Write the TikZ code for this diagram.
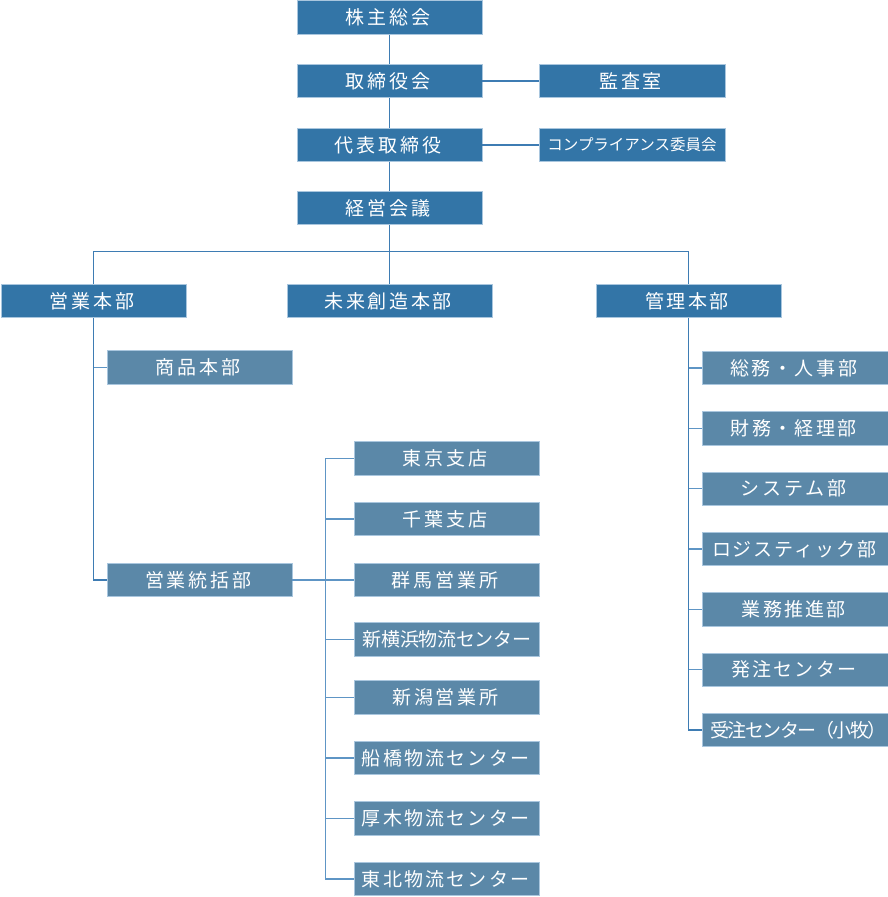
\documentclass[tikz,border=0pt]{standalone}
\usepackage{fontspec}
\setmainfont{Noto Sans CJK JP}
\definecolor{darkbox}{HTML}{3375A7}
\definecolor{lightbox}{HTML}{5B88A8}
\definecolor{boxedge}{HTML}{A9C6DE}
\definecolor{lineA}{HTML}{3E7CB3}
\definecolor{lineB}{HTML}{5E95C5}
\ExplSyntaxOn
\NewDocumentCommand\ls{O{3}m}{
  \tl_map_inline:nn {#2} { ##1 \hspace{#1pt} } \hspace{-#1pt}
}
\ExplSyntaxOff
\tikzset{
  orgbox/.style={rectangle, minimum width=185pt, minimum height=33.5pt, inner sep=0pt,
    fill=darkbox, draw=boxedge, line width=0.6pt, text=white,
    font=\fontsize{19}{19}\selectfont},
  subbox/.style={orgbox, fill=lightbox},
  linkA/.style={draw=lineA, line width=1.4pt},
  linkB/.style={draw=lineB, line width=1.4pt}
}
\begin{document}
\begin{tikzpicture}[x=1pt,y=-1pt]
\useasboundingbox (0,0) rectangle (888,897);
% top chain
\node[orgbox] (kabu) at (389.5,17.5) {\ls{株主総会}};
\node[orgbox] (tori) at (389.5,81) {\ls{取締役会}};
\node[orgbox] (daihyo) at (389.5,145) {\ls[2.9]{代表取締役}};
\node[orgbox] (keiei) at (389.5,208) {\ls{経営会議}};
\node[orgbox, minimum width=186pt] (kansa) at (632,81) {\ls[2.8]{監査室}};
\node[orgbox, minimum width=186pt, font=\fontsize{15.5}{15.5}\selectfont] (comp) at (632,145) {コンプライアンス委員会};
% divisions
\node[orgbox] (eigyo) at (93.5,301) {\ls{営業本部}};
\node[orgbox, minimum width=205pt] (mirai) at (389.5,301) {\ls[2.6]{未来創造本部}};
\node[orgbox] (kanri) at (688.5,301) {\ls[2.5]{管理本部}};
% sales
\node[subbox] (shohin) at (199.5,367.5) {\ls[2.9]{商品本部}};
\node[subbox] (togatsu) at (199.5,580) {\ls[2.8]{営業統括部}};
% branches
\node[subbox, minimum width=185.5pt] (tokyo) at (446.75,458.5) {\ls{東京支店}};
\node[subbox, minimum width=185.5pt] (chiba) at (446.75,519) {\ls{千葉支店}};
\node[subbox, minimum width=185.5pt] (gunma) at (446.75,580) {\ls{群馬営業所}};
\node[subbox, minimum width=185.5pt] (shinyoko) at (446.75,639.5) {\ls[-0.3]{新横浜物流センター}};
\node[subbox, minimum width=185.5pt] (niigata) at (446.75,697.5) {\ls[2.6]{新潟営業所}};
\node[subbox, minimum width=185.5pt] (funabashi) at (446.75,758) {\ls[2.2]{船橋物流センター}};
\node[subbox, minimum width=185.5pt] (atsugi) at (446.75,818.5) {\ls[2.2]{厚木物流センター}};
\node[subbox, minimum width=185.5pt] (tohoku) at (446.75,879) {\ls[2.2]{東北物流センター}};
% admin
\node[subbox, minimum width=186pt] (soumu) at (795,368) {\ls[2.6]{総務・人事部}};
\node[subbox, minimum width=186pt] (zaimu) at (795,428.3) {\ls[2.4]{財務・経理部}};
\node[subbox, minimum width=186pt] (system) at (795,488.7) {\ls[2.7]{システム部}};
\node[subbox, minimum width=186pt] (logi) at (795,549) {\ls[1.7]{ロジスティック部}};
\node[subbox, minimum width=186pt] (gyomu) at (795,609.5) {\ls[2.3]{業務推進部}};
\node[subbox, minimum width=186pt] (hacchu) at (795,669.7) {\ls[2.1]{発注センター}};
\node[subbox, minimum width=186pt] (juchu) at (795,730) {\hspace{5pt}\ls[-1.5]{受注センター（小牧）}};
% connectors top
\draw[linkA] (kabu.south) -- (tori.north);
\draw[linkA] (tori.south) -- (daihyo.north);
\draw[linkA] (daihyo.south) -- (keiei.north);
\draw[linkA] (tori.east) -- (kansa.west);
\draw[linkA] (daihyo.east) -- (comp.west);
\coordinate (bus) at (389.5,251.5);
\draw[linkA] (keiei.south) -- (mirai.north);
\draw[linkA] (eigyo.north) |- (bus) -| (kanri.north);
% sales tree
\draw[linkA] (eigyo.south) |- (togatsu.west);
\draw[linkB] (eigyo.south |- shohin.west) -- (shohin.west);
\coordinate (brx) at (325.5,458.5);
\draw[linkB] (togatsu.east) -- (gunma.west);
\draw[linkB] (tokyo.west) -- (brx) |- (tohoku.west);
\foreach \n in {chiba,shinyoko,niigata,funabashi,atsugi}
  \draw[linkB] (\n.west) -- (brx |- \n.west);
% admin tree
\draw[linkA] (kanri.south) |- (juchu.west);
\foreach \n in {soumu,zaimu,system,logi,gyomu,hacchu}
  \draw[linkB] (\n.west) -- (kanri.south |- \n.west);
\end{tikzpicture}
\end{document}
